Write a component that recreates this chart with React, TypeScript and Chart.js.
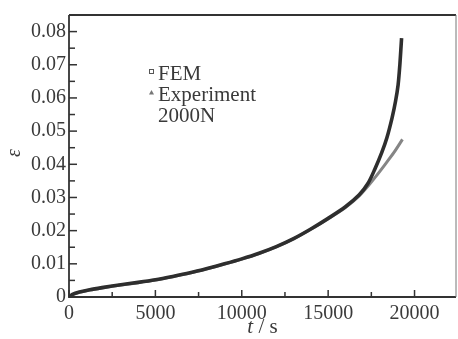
import React, { useEffect, useRef } from "react";
import { Chart, registerables } from "chart.js";

Chart.register(...registerables);

const timeFEM = [0, 200, 600, 1200, 2000, 3000, 4000, 5000, 6000, 7000, 8000, 9000, 10000, 11000, 12000, 13000, 14000, 15000, 16000, 16800, 17300, 17700, 18100, 18400, 18700, 18900, 19050, 19150, 19250];
const strainFEM = [0, 0.0008, 0.0015, 0.0022, 0.0029, 0.0037, 0.0044, 0.0052, 0.0062, 0.0073, 0.0086, 0.01, 0.0115, 0.0132, 0.0152, 0.0176, 0.0205, 0.0237, 0.0272, 0.0308, 0.0342, 0.0385, 0.0435, 0.048, 0.054, 0.059, 0.064, 0.07, 0.078];

const timeExp = [0, 200, 600, 1200, 2000, 3000, 4000, 5000, 6000, 7000, 8000, 9000, 10000, 11000, 12000, 13000, 14000, 15000, 16000, 16800, 17300, 17800, 18300, 18800, 19300];
const strainExp = [0, 0.0007, 0.0014, 0.0021, 0.0028, 0.0036, 0.0043, 0.0051, 0.0061, 0.0072, 0.0085, 0.0099, 0.0114, 0.0131, 0.0151, 0.0175, 0.0204, 0.0236, 0.027, 0.0305, 0.0334, 0.0366, 0.04, 0.0435, 0.0475];

const xTickValues = [0, 5000, 10000, 15000, 20000];
const yTickValues = [0, 0.01, 0.02, 0.03, 0.04, 0.05, 0.06, 0.07, 0.08];
const legendLabels = ["FEM", "Experiment", "2000N"];
const xTitleItalic = "t";
const xTitleRest = " / s";
const yTitle = "ε";

const FONT = '"Liberation Serif", "DejaVu Serif", serif';
const TEXT = "#3a3a3a";

const framePlugin = {
  id: "frame",
  afterDraw(chart: any) {
    const { ctx, chartArea, scales } = chart;
    const { left, right, top, bottom } = chartArea;
    const xs = scales.x;
    const ys = scales.y;
    ctx.save();
    ctx.strokeStyle = "#333";
    ctx.lineWidth = 1.8;
    ctx.beginPath();
    ctx.moveTo(left, top);
    ctx.lineTo(left, bottom);
    ctx.lineTo(right, bottom);
    ctx.stroke();
    ctx.lineWidth = 2;
    ctx.beginPath();
    ctx.moveTo(left, top);
    ctx.lineTo(right, top);
    ctx.stroke();
    ctx.strokeStyle = "#777";
    ctx.lineWidth = 1;
    ctx.beginPath();
    ctx.moveTo(right, top);
    ctx.lineTo(right, bottom);
    ctx.stroke();
    ctx.strokeStyle = "#333";
    ctx.lineWidth = 1.5;
    for (let i = 0; i * 2500 <= xs.max; i++) {
      const v = i * 2500;
      const px = xs.getPixelForValue(v);
      const len = i % 2 === 0 ? 7 : 5;
      ctx.beginPath();
      ctx.moveTo(px, bottom);
      ctx.lineTo(px, bottom - len);
      ctx.stroke();
    }
    for (let i = 0; i * 0.005 <= ys.max + 1e-9; i++) {
      const v = i * 0.005;
      const py = ys.getPixelForValue(v);
      const len = i % 2 === 0 ? 8 : 6;
      ctx.beginPath();
      ctx.moveTo(left, py);
      ctx.lineTo(left + len, py);
      ctx.stroke();
    }
    ctx.fillStyle = TEXT;
    ctx.font = `21px ${FONT}`;
    ctx.textAlign = "left";
    ctx.textBaseline = "alphabetic";
    ctx.fillText(legendLabels[0], 158, 80);
    ctx.fillText(legendLabels[1], 158, 100.5);
    ctx.fillText(legendLabels[2], 158, 121.5);
    ctx.strokeStyle = "#555";
    ctx.lineWidth = 1;
    ctx.strokeRect(149.5, 69.5, 4, 4);
    ctx.fillStyle = "#777";
    ctx.beginPath();
    ctx.moveTo(151.5, 90);
    ctx.lineTo(154, 94.5);
    ctx.lineTo(149, 94.5);
    ctx.closePath();
    ctx.fill();
    ctx.fillStyle = TEXT;
    ctx.font = `italic 21px ${FONT}`;
    const w1 = ctx.measureText(xTitleItalic).width;
    ctx.font = `21px ${FONT}`;
    const w2 = ctx.measureText(xTitleRest).width;
    const cx = (left + right) / 2;
    const sx = cx - (w1 + w2) / 2;
    ctx.font = `italic 21px ${FONT}`;
    ctx.fillText(xTitleItalic, sx, 333);
    ctx.font = `21px ${FONT}`;
    ctx.fillText(xTitleRest, sx + w1, 333);
    ctx.save();
    ctx.translate(15, 153);
    ctx.rotate(-Math.PI / 2);
    ctx.font = `italic 20px ${FONT}`;
    ctx.textAlign = "center";
    ctx.textBaseline = "middle";
    ctx.fillText(yTitle, 0, 0);
    ctx.restore();
    ctx.restore();
  },
};

export default function App() {
  const ref = useRef<HTMLCanvasElement>(null);
  useEffect(() => {
    document.body.style.margin = "0";
    const canvas = ref.current;
    if (!canvas) return;
    const chart = new Chart(canvas, {
      type: "line",
      data: {
        datasets: [
          {
            label: "FEM",
            data: timeFEM.map((t, i) => ({ x: t, y: strainFEM[i] })),
            borderColor: "#2e2e2e",
            backgroundColor: "#2e2e2e",
            borderWidth: 3.6,
            pointRadius: 0,
            tension: 0.3,
            order: 1,
          },
          {
            label: "Experiment",
            data: timeExp.map((t, i) => ({ x: t, y: strainExp[i] })),
            borderColor: "#858585",
            backgroundColor: "#858585",
            borderWidth: 3,
            pointRadius: 0,
            tension: 0.3,
            order: 2,
          },
        ],
      },
      options: {
        responsive: false,
        animation: false,
        layout: { padding: { top: 14, right: 2, left: 0, bottom: 0 } },
        plugins: { legend: { display: false }, tooltip: { enabled: false } },
        scales: {
          x: {
            type: "linear",
            min: 0,
            max: 22400,
            grid: { display: false, drawTicks: false },
            border: { display: false },
            afterBuildTicks: (s: any) => {
              s.ticks = xTickValues.map((v) => ({ value: v }));
            },
            afterFit: (s: any) => {
              s.height = 42;
            },
            ticks: {
              padding: 5,
              maxRotation: 0,
              color: TEXT,
              font: { family: FONT, size: 20 },
              callback: (v: any) => String(v),
            },
          },
          y: {
            type: "linear",
            min: 0,
            max: 0.085,
            grid: { display: false, drawTicks: false },
            border: { display: false },
            afterBuildTicks: (s: any) => {
              s.ticks = yTickValues.map((v) => ({ value: v }));
            },
            afterFit: (s: any) => {
              s.width = 69;
            },
            ticks: {
              padding: 3,
              color: TEXT,
              font: { family: FONT, size: 20 },
              callback: (v: any) => (Number(v) === 0 ? "0" : Number(v).toFixed(2)),
            },
          },
        },
      },
      plugins: [framePlugin],
    });
    return () => chart.destroy();
  }, []);
  return (
    <canvas ref={ref} width={458} height={339} style={{ display: "block", width: 458, height: 339 }} />
  );
}
